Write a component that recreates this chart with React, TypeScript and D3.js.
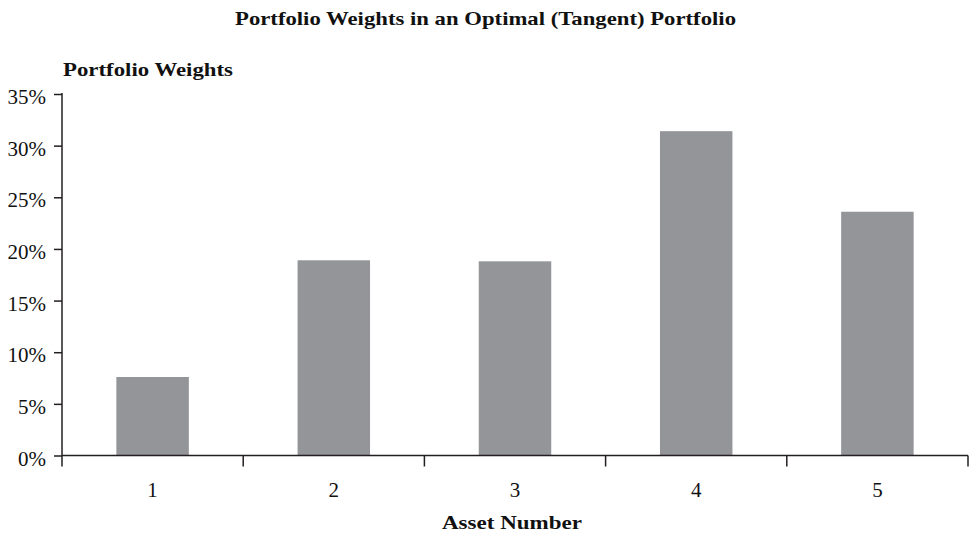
import { useEffect, useRef } from "react";
import * as d3 from "d3";

// chart data
const assets = ["1", "2", "3", "4", "5"];
const weights = [7.6, 18.9, 18.8, 31.4, 23.6];
const yTicks = [0, 5, 10, 15, 20, 25, 30, 35];

const App = () => {
  const svgRef = useRef<SVGSVGElement | null>(null);

  useEffect(() => {
    if (!svgRef.current) return;

    const width = 972;
    const height = 539;
    const left = 62;
    const right = 968;
    const top = 94;
    const bottom = 455.5;
    const font = "'Liberation Serif', 'DejaVu Serif', serif";
    const ink = "#231f20";

    const svg = d3.select(svgRef.current).attr("width", width).attr("height", height);
    svg.selectAll("*").remove();

    // slot per asset, bars take 40% of it
    const x = d3.scaleBand<string>().domain(assets).range([left, right]).padding(0);
    const y = d3.scaleLinear().domain([0, 35]).range([bottom, top]);
    const barW = x.bandwidth() * 0.4;

    // bars
    svg
      .append("g")
      .selectAll("rect")
      .data(weights)
      .enter()
      .append("rect")
      .attr("x", (_d, i) => (x(assets[i]) as number) + (x.bandwidth() - barW) / 2)
      .attr("y", (d) => y(d))
      .attr("width", barW)
      .attr("height", (d) => y(0) - y(d))
      .attr("fill", "#939598");

    // y axis
    const yAxis = svg
      .append("g")
      .attr("transform", `translate(${left},0)`)
      .call(
        d3
          .axisLeft(y)
          .tickValues(yTicks)
          .tickSize(8)
          .tickPadding(8)
          .tickFormat((d) => `${d}%`)
      );
    yAxis.select(".domain").remove();
    yAxis.selectAll("line").attr("stroke", ink).attr("stroke-width", 1.5);
    yAxis
      .selectAll("text")
      .attr("dy", 9.5)
      .attr("font-family", font)
      .attr("font-size", 21)
      .attr("fill", "#111");

    svg
      .append("line")
      .attr("x1", left)
      .attr("x2", left)
      .attr("y1", top - 1)
      .attr("y2", bottom + 11)
      .attr("stroke", ink)
      .attr("stroke-width", 1.5);

    // x axis baseline and slot boundary ticks
    svg
      .append("line")
      .attr("x1", left)
      .attr("x2", right)
      .attr("y1", y(0))
      .attr("y2", y(0))
      .attr("stroke", ink)
      .attr("stroke-width", 1.5);

    const bounds = assets.map((a) => x(a) as number).concat([right]);
    svg
      .append("g")
      .selectAll("line")
      .data(bounds.slice(1))
      .enter()
      .append("line")
      .attr("x1", (d) => d)
      .attr("x2", (d) => d)
      .attr("y1", y(0))
      .attr("y2", y(0) + 11)
      .attr("stroke", ink)
      .attr("stroke-width", 1.5);

    svg
      .append("g")
      .selectAll("text")
      .data(assets)
      .enter()
      .append("text")
      .attr("x", (d) => (x(d) as number) + x.bandwidth() / 2)
      .attr("y", 497)
      .attr("text-anchor", "middle")
      .attr("font-family", font)
      .attr("font-size", 21)
      .attr("fill", "#111")
      .text((d) => d);

    // titles (stretched to the wider book face of the original)
    const bold = (tx: number, ty: number, len: number, label: string) =>
      svg
        .append("text")
        .attr("x", tx)
        .attr("y", ty)
        .attr("font-family", font)
        .attr("font-weight", "bold")
        .attr("font-size", 19)
        .attr("fill", "#111")
        .attr("textLength", len)
        .attr("lengthAdjust", "spacingAndGlyphs")
        .text(label);

    bold(235, 25, 501, "Portfolio Weights in an Optimal (Tangent) Portfolio");
    bold(63, 76, 170, "Portfolio Weights");
    bold(442, 529, 140, "Asset Number");
  }, []);

  return (
    <div style={{ position: "absolute", left: 0, top: 0 }}>
      <svg ref={svgRef} style={{ display: "block" }}></svg>
    </div>
  );
};

export default App;
